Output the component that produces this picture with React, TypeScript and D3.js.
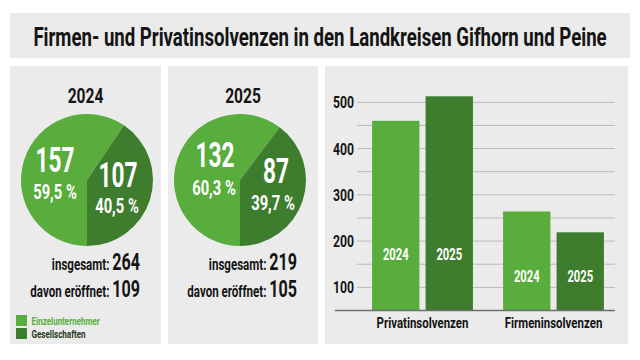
import React from "react";
import * as d3 from "d3";

const years = ["2024", "2025"];
const pieLabels = ["Einzelunternehmer", "Gesellschaften"];
const pieValues2024 = [157, 107];
const pieValues2025 = [132, 87];
const pieShares2024 = ["59,5 %", "40,5 %"];
const pieShares2025 = ["60,3 %", "39,7 %"];
const totals = [264, 219];
const opened = [109, 105];

const barCategories = ["Privatinsolvenzen", "Firmeninsolvenzen"];
const privatValues = [460, 513];
const firmenValues = [264, 219];
const yTicks = [100, 200, 300, 400, 500];
const yGrid = [100, 150, 200, 250, 300, 350, 400, 450, 500];

const W = 640;
const H = 360;
const LIGHT = "#59ad3d";
const DARK = "#3d7d2d";
const PANEL = "#ebebeb";
const INK = "#141414";
const FONT = "Roboto, 'DejaVu Sans', sans-serif";

// condensed text: the reference uses a narrow DIN-like face, so squeeze Roboto horizontally
const CText = ({ x, y, size, sx = 0.74, anchor = "start", fill = INK, children }: any) => (
  <text
    transform={`translate(${x},${y}) scale(${sx},1)`}
    textAnchor={anchor}
    fontSize={size}
    fontWeight="bold"
    fill={fill}
  >
    {children}
  </text>
);

const PiePanel = ({ x, width, year, values, shares, total, open, cx, lab, legend }: any) => {
  const r = 66;
  const cy = 180;
  const pie = d3.pie<number>().sort(null).startAngle(Math.PI).endAngle(3 * Math.PI);
  const arc = d3.arc<any>().innerRadius(0).outerRadius(r);
  const arcs = pie(values);
  const right = x + width - 21;
  return (
    <g>
      <rect x={x} y={66} width={width} height={278} fill={PANEL} />
      <CText x={x + width / 2} y={103} size={20.5} sx={0.76} anchor="middle">
        {year}
      </CText>
      <g transform={`translate(${cx},${cy})`}>
        {arcs.map((a, i) => (
          <path key={i} d={arc(a) as string} fill={i === 0 ? LIGHT : DARK} />
        ))}
        {arcs.map((a, i) => (
          <g key={"l" + i}>
            <CText x={lab[i][0]} y={lab[i][1]} size={36} sx={0.63} anchor="middle" fill="#fff">
              {values[i]}
            </CText>
            <CText x={lab[i][2]} y={lab[i][3]} size={20} sx={0.74} anchor="middle" fill="#fff">
              {shares[i]}
            </CText>
          </g>
        ))}
      </g>
      <CText x={right} y={270} size={16.5} sx={0.7} anchor="end">
        <tspan>insgesamt: </tspan>
        <tspan fontSize={23}>{total}</tspan>
      </CText>
      <CText x={right} y={297} size={16.5} sx={0.7} anchor="end">
        <tspan>davon eröffnet: </tspan>
        <tspan fontSize={23}>{open}</tspan>
      </CText>
      {legend &&
        pieLabels.map((l, i) => (
          <g key={l} transform={`translate(16,${315 + i * 13})`}>
            <rect width={11} height={11} fill={i === 0 ? LIGHT : DARK} />
            <CText x={15.5} y={9.5} size={11.5} sx={0.7} fill={i === 0 ? LIGHT : "#1f3a19"}>
              {l}
            </CText>
          </g>
        ))}
    </g>
  );
};

const BarPanel = () => {
  const y = d3.scaleLinear().domain([50, 500]).range([310.5, 102.3]);
  const x0 = d3.scaleBand().domain(barCategories).range([357, 619]).paddingInner(0.23).paddingOuter(0.115);
  const x1 = d3.scaleBand().domain(years).range([0, x0.bandwidth()]).paddingInner(0.115);
  const series = [privatValues, firmenValues];
  const labelAt = [160, 112];
  return (
    <g>
      <rect x={325} y={66} width={303} height={278} fill={PANEL} />
      {yGrid.map((t) => (
        <line key={t} x1={357} x2={615} y1={y(t)} y2={y(t)} stroke="#b9b9b9" strokeWidth={1} />
      ))}
      {yTicks.map((t) => (
        <CText key={t} x={354} y={y(t) + 6} size={17} sx={0.72} anchor="end">
          {t}
        </CText>
      ))}
      {barCategories.map((c, ci) => (
        <g key={c} transform={`translate(${x0(c)},0)`}>
          {years.map((yr, yi) => {
            const v = series[ci][yi];
            return (
              <g key={yr}>
                <rect
                  x={x1(yr)}
                  y={y(v)}
                  width={x1.bandwidth()}
                  height={y(50) - y(v)}
                  fill={yi === 0 ? LIGHT : DARK}
                />
                <CText
                  x={(x1(yr) as number) + x1.bandwidth() / 2}
                  y={y(labelAt[ci])}
                  size={17}
                  sx={0.66}
                  anchor="middle"
                  fill="#fff"
                >
                  {yr}
                </CText>
              </g>
            );
          })}
          <CText x={x0.bandwidth() / 2} y={327.5} size={15.5} sx={0.74} anchor="middle">
            {c}
          </CText>
        </g>
      ))}
      <line x1={335} x2={615} y1={y(50)} y2={y(50)} stroke="#6e6e6e" strokeWidth={1.5} />
    </g>
  );
};

export default function App() {
  return (
    <svg width={W} height={H} style={{ position: "absolute", left: 0, top: 0, fontFamily: FONT }}>
      <rect width={W} height={H} fill="#fff" />
      <rect x={10} y={13} width={620} height={45} fill={PANEL} />
      <CText x={320} y={46} size={25.5} sx={0.73} anchor="middle">
        Firmen- und Privatinsolvenzen in den Landkreisen Gifhorn und Peine
      </CText>
      <PiePanel
        x={10}
        width={151}
        year={years[0]}
        values={pieValues2024}
        shares={pieShares2024}
        total={totals[0]}
        open={opened[0]}
        cx={87}
        lab={[
          [-32, -8, -32, 19],
          [31, 7, 30, 33],
        ]}
        legend
      />
      <PiePanel
        x={168}
        width={150}
        year={years[1]}
        values={pieValues2025}
        shares={pieShares2025}
        total={totals[1]}
        open={opened[1]}
        cx={240}
        lab={[
          [-25, -13, -26, 15],
          [36, 3, 33, 30],
        ]}
        legend={false}
      />
      <BarPanel />
    </svg>
  );
}
